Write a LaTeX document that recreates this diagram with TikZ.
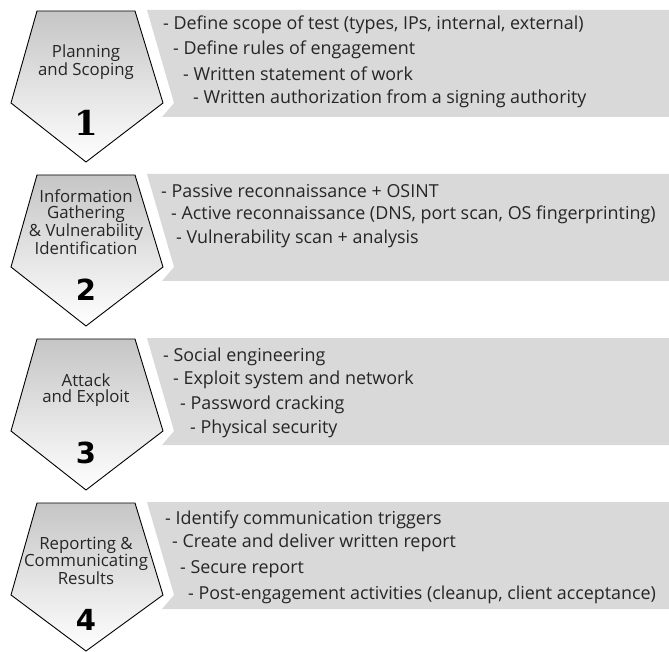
\documentclass[tikz,border=0pt]{standalone}
\usepackage{fontspec}
\newfontfamily\itemfont{Open Sans}
\newfontfamily\numfont{DejaVu Sans}
\newfontfamily\onefont{DejaVu Serif}
\definecolor{bandgray}{HTML}{D9D9D9}
\definecolor{txtgray}{HTML}{262626}
\tikzset{
  item/.style={anchor=west,inner sep=0pt,text=txtgray,font=\itemfont\fontsize{17.9}{18}\selectfont},
  phase/.style={align=center,inner sep=0pt,text=txtgray,font=\itemfont\fontsize{16.8}{16.5}\selectfont},
  num/.style={inner sep=0pt,font=\numfont\bfseries\fontsize{29}{30}\selectfont},
  penta/.style={draw=black,line width=0.9pt,top color=gray!45,bottom color=white}
}
\begin{document}
\begin{tikzpicture}[x=1pt,y=-1pt]
\useasboundingbox (0,0) rectangle (669,652);
%block 1
\fill[bandgray] (147,10) -- (669,10) -- (669,117) -- (162,117) -- (174,103) -- cycle;
\shade[penta] (37,11) -- (135,11) -- (163,103) -- (86,162) -- (11,103) -- cycle;
\node[phase] (p1) at (86,62) {Planning\\and Scoping};
\node[inner sep=0pt,font=\onefont\bfseries\fontsize{34}{34}\selectfont] (n1) at (86,123) {1};
\node[item] (a1) at (163,25) {- Define scope of test (types, IPs, internal, external)};
\node[item] (a2) at (173,50) {- Define rules of engagement};
\node[item] (a3) at (183,74) {- Written statement of work};
\node[item] (a4) at (193,99) {- Written authorization from a signing authority};
%block 2
\fill[bandgray] (147,174) -- (669,174) -- (669,281) -- (162,281) -- (174,267) -- cycle;
\shade[penta] (37,175) -- (135,175) -- (163,267) -- (86,326) -- (11,267) -- cycle;
\node[phase] (p2) at (86,222) {Information\\Gathering\\\&~Vulnerability\\Identification};
\node[num] (n2) at (86,290) {2};
\node[item] (b1) at (161,191) {- Passive reconnaissance + OSINT};
\node[item] (b2) at (171,215) {- Active reconnaissance (DNS, port scan, OS fingerprinting)};
\node[item] (b3) at (176,239) {- Vulnerability scan + analysis};
%block 3
\fill[bandgray] (147,338) -- (669,338) -- (669,445) -- (162,445) -- (174,431) -- cycle;
\shade[penta] (37,339) -- (135,339) -- (163,431) -- (86,490) -- (11,431) -- cycle;
\node[phase] (p3) at (86,390) {Attack\\and Exploit};
\node[num] (n3) at (86,453) {3};
\node[item] (c1) at (163,357) {- Social engineering};
\node[item] (c2) at (173,380) {- Exploit system and network};
\node[item] (c3) at (180,405) {- Password cracking};
\node[item] (c4) at (190,429) {- Physical security};
%block 4
\fill[bandgray] (147,502) -- (669,502) -- (669,609) -- (162,609) -- (174,595) -- cycle;
\shade[penta] (37,503) -- (135,503) -- (163,595) -- (86,651) -- (11,595) -- cycle;
\node[phase] (p4) at (86,561) {Reporting \&\\Communicating\\Results};
\node[num] (n4) at (86,620) {4};
\node[item] (d1) at (165,520) {- Identify communication triggers};
\node[item] (d2) at (172,543) {- Create and deliver written report};
\node[item] (d3) at (180,569) {- Secure report};
\node[item] (d4) at (188,595) {- Post-engagement activities (cleanup, client acceptance)};
\end{tikzpicture}
\end{document}
